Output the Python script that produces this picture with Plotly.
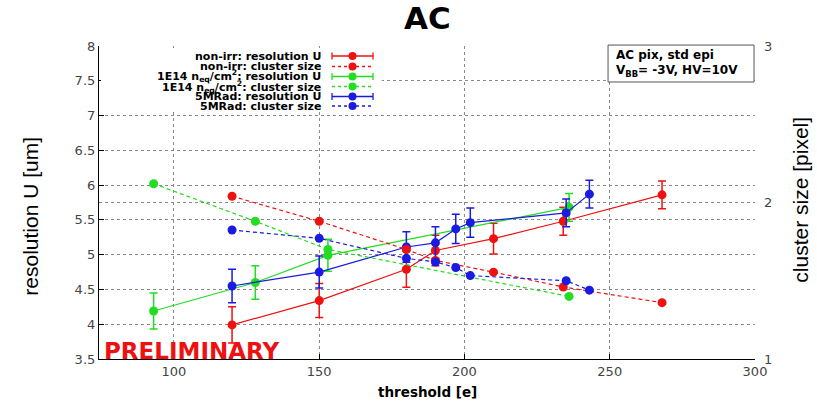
import plotly.graph_objects as go

# ---------------- data ----------------
red_x = [120, 150, 180, 190, 210, 234, 268]
red_res = [3.99, 4.34, 4.79, 5.06, 5.23, 5.48, 5.86]
red_err = [0.26, 0.245, 0.26, 0.22, 0.22, 0.2, 0.2]
red_cs = [2.04, 1.88, 1.70, 1.63, 1.555, 1.46, 1.36]

green_x = [93, 128, 153, 236]
green_res = [4.19, 4.60, 4.99, 5.68]
green_err = [0.26, 0.24, 0.23, 0.2]
green_cs = [2.12, 1.88, 1.70, 1.40]

blue_x = [120, 150, 180, 190, 197, 202, 235, 243]
blue_res = [4.55, 4.75, 5.11, 5.17, 5.37, 5.46, 5.60, 5.87]
blue_err = [0.24, 0.23, 0.22, 0.23, 0.21, 0.21, 0.2, 0.2]
blue_cs = [1.824, 1.771, 1.643, 1.62, 1.585, 1.533, 1.50, 1.44]

legend_labels = [
    "non-irr: resolution U",
    "non-irr: cluster size",
    "1E14 n<sub>eq</sub>/cm<sup>2</sup>: resolution U",
    "1E14 n<sub>eq</sub>/cm<sup>2</sup>: cluster size",
    "5MRad: resolution U",
    "5MRad: cluster size",
]

x_ticks = [100, 150, 200, 250, 300]
y_ticks = [3.5, 4, 4.5, 5, 5.5, 6, 6.5, 7, 7.5, 8]
y2_ticks = [1, 2, 3]

RED = "#ee1111"
GREEN = "#22dd22"
BLUE = "#1a1ae0"
colors = [RED, RED, GREEN, GREEN, BLUE, BLUE]

FONT = "DejaVu Sans"

fig = go.Figure()


def res_trace(x, y, e, c):
    return go.Scatter(
        x=x, y=y, mode="lines+markers",
        line=dict(color=c, width=1.2),
        marker=dict(color=c, size=9),
        error_y=dict(type="data", array=e, visible=True, color=c, thickness=1.5, width=4),
        showlegend=False, yaxis="y",
    )


def cs_trace(x, y, c):
    return go.Scatter(
        x=x, y=y, mode="lines+markers",
        line=dict(color=c, width=1.2, dash="4px,3px"),
        marker=dict(color=c, size=9),
        showlegend=False, yaxis="y2",
    )


fig.add_trace(cs_trace(red_x, red_cs, RED))
fig.add_trace(cs_trace(green_x, green_cs, GREEN))
fig.add_trace(cs_trace(blue_x, blue_cs, BLUE))
fig.add_trace(res_trace(red_x, red_res, red_err, RED))
fig.add_trace(res_trace(green_x, green_res, green_err, GREEN))
fig.add_trace(res_trace(blue_x, blue_res, blue_err, BLUE))

shapes = []
annotations = []

# legend background (white, covers gridlines)
shapes.append(dict(type="rect", xref="paper", yref="paper", x0=0.003, x1=0.431, y0=0.789, y1=0.994,
                   fillcolor="white", line=dict(width=0), layer="above"))

row_y = [0.968, 0.9345, 0.9026, 0.8706, 0.8387, 0.8083]
for i, (lab, c, yy) in enumerate(zip(legend_labels, colors, row_y)):
    annotations.append(dict(text="<b>" + lab + "</b>", xref="paper", yref="paper", x=0.341, y=yy,
                            xanchor="right", yanchor="middle", showarrow=False,
                            font=dict(family=FONT, size=11, color="black")))
    is_res = (i % 2 == 0)
    shapes.append(dict(type="line", xref="paper", yref="paper", x0=0.3552, x1=0.4177, y0=yy, y1=yy,
                       line=dict(color=c, width=1.3, dash="solid" if is_res else "3px,3px"), layer="above"))
    if is_res:
        for xc in (0.3552, 0.4177):
            shapes.append(dict(type="line", xref="paper", yref="paper", x0=xc, x1=xc,
                               y0=yy - 0.011, y1=yy + 0.011, line=dict(color=c, width=1.3), layer="above"))
    shapes.append(dict(type="circle", xref="paper", yref="paper", xsizemode="pixel", ysizemode="pixel",
                       xanchor=0.3864, yanchor=yy, x0=-4, x1=4, y0=-4, y1=4,
                       fillcolor=c, line=dict(width=0), layer="above"))

# info box
shapes.append(dict(type="rect", xref="paper", yref="paper", x0=0.776, x1=0.9985, y0=0.885, y1=1.003,
                   fillcolor="white", line=dict(color="#555", width=1), layer="above"))
annotations.append(dict(text="<b>AC pix, std epi</b>", xref="paper", yref="paper", x=0.785, y=0.972,
                        xanchor="left", yanchor="middle", showarrow=False,
                        font=dict(family=FONT, size=12, color="black")))
annotations.append(dict(text="<b>V<sub>BB</sub>= -3V, HV=10V</b>", xref="paper", yref="paper", x=0.785, y=0.92,
                        xanchor="left", yanchor="middle", showarrow=False,
                        font=dict(family=FONT, size=12, color="black")))

# PRELIMINARY
annotations.append(dict(text="<b>PRELIMINARY</b>", xref="paper", yref="paper", x=0.004, y=0.027,
                        xanchor="left", yanchor="middle", showarrow=False,
                        font=dict(family=FONT, size=23, color="#ee1111")))

# title
annotations.append(dict(text="<b>AC</b>", xref="paper", yref="paper", x=0.5015, y=1.0895,
                        xanchor="center", yanchor="middle", showarrow=False,
                        font=dict(family=FONT, size=31, color="black")))

# axis titles
annotations.append(dict(text="resolution U [um]", xref="paper", yref="paper", x=-0.105, y=0.455,
                        xanchor="center", yanchor="middle", textangle=-90, showarrow=False,
                        font=dict(family="Liberation Sans", size=21, color="black")))
annotations.append(dict(text="cluster size [pixel]", xref="paper", yref="paper", x=1.069, y=0.51,
                        xanchor="center", yanchor="middle", textangle=-90, showarrow=False,
                        font=dict(family="Liberation Sans", size=21, color="black")))
annotations.append(dict(text="<b>threshold [e]</b>", xref="paper", yref="paper", x=0.5015, y=-0.105,
                        xanchor="center", yanchor="middle", showarrow=False,
                        font=dict(family=FONT, size=13.5, color="black")))

GRID = "#8a8a8a"

fig.update_layout(
    width=817, height=412,
    margin=dict(l=99, r=62, t=46, b=53),
    paper_bgcolor="white", plot_bgcolor="white",
    shapes=shapes, annotations=annotations,
    xaxis=dict(range=[74.2, 300], tickvals=x_ticks, ticktext=[str(v) for v in x_ticks],
               showgrid=True, gridcolor=GRID, griddash="dot", gridwidth=1,
               showline=True, linecolor="black", linewidth=1.2, mirror=False,
               ticks="inside", ticklen=5, tickcolor="black",
               tickfont=dict(family=FONT, size=13, color="#444"), zeroline=False),
    yaxis=dict(range=[3.5, 8], tickvals=y_ticks, ticktext=[("%g" % v) for v in y_ticks],
               showgrid=True, gridcolor=GRID, griddash="dot", gridwidth=1,
               showline=True, linecolor="black", linewidth=1.2,
               ticks="inside", ticklen=5, tickcolor="black",
               tickfont=dict(family=FONT, size=13, color="#444"), zeroline=False),
    yaxis2=dict(range=[1, 3], tickvals=y2_ticks, ticktext=[str(v) for v in y2_ticks],
                overlaying="y", side="right",
                showgrid=True, gridcolor=GRID, griddash="dot", gridwidth=1,
                showline=False, ticks="", ticklabelstandoff=8,
                tickfont=dict(family=FONT, size=13, color="#444"), zeroline=False),
)

fig.write_html("out.html", config={"displayModeBar": False},
               post_script="document.body.style.margin='0';document.body.style.padding='0';")
